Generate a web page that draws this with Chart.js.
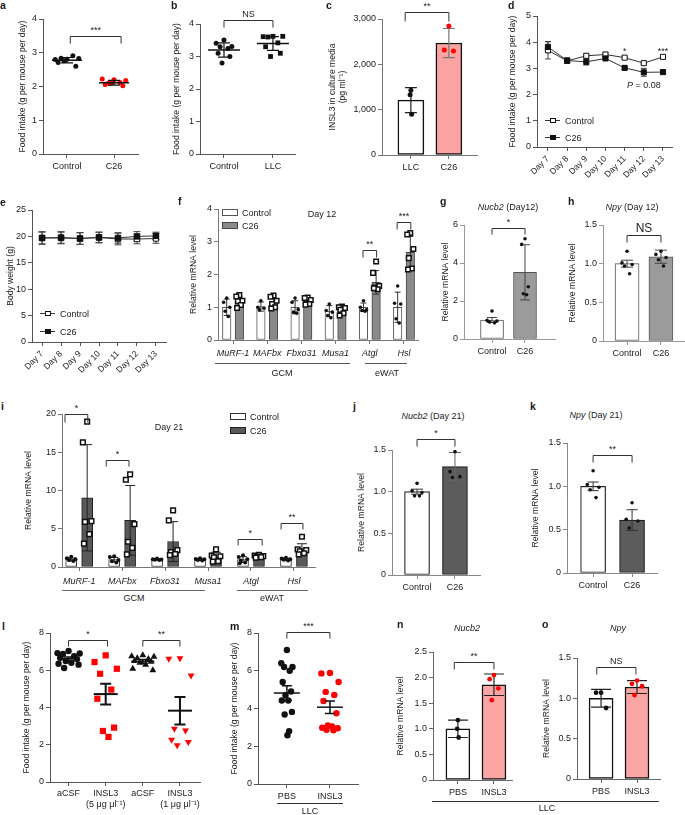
<!DOCTYPE html>
<html lang="en">
<head>
<meta charset="UTF-8">
<title>Food intake and INSL3 panels</title>
<style>
  body { margin: 0; background: #fff; }
  #fig { position: relative; width: 685px; height: 815px; overflow: hidden; font-family: "Liberation Sans", Arial, sans-serif; color: #1a1a1a; }
  #fig canvas { position: absolute; }
  .t { position: absolute; font-size: 9px; white-space: nowrap; transform: translate(-50%, -50%); line-height: 1; }
  .tl { position: absolute; font-size: 9px; white-space: nowrap; transform: translateY(-50%); line-height: 1; }
  .lt { position: absolute; font-size: 10.5px; font-weight: bold; transform: translateY(-50%); line-height: 1; }
  .hl { position: absolute; height: 0; border-top: 1px solid #444; }
  .bx { position: absolute; box-sizing: border-box; border: 1px solid #444; }
</style>
</head>
<body>
<div id="fig"></div>
<script src="https://cdn.jsdelivr.net/npm/chart.js"></script>
<script>
// ---------- data ----------
// a: food intake, C26 model
const aCats = ['Control', 'C26'];
const aMean = [2.78, 2.11];
const aSD = [0.08, 0.07];
const aCtrl = [2.81, 2.8, 2.83, 2.84, 2.91, 2.71, 2.6, 2.76];
const aC26 = [2.2, 2.22, 2.18, 2.1, 2.12, 2.06, 2.02, 2.1];

// b: food intake, LLC model
const bCats = ['Control', 'LLC'];
const bMean = [3.2, 3.4];
const bSD = [0.22, 0.21];
const bCtrl = [3.51, 3.41, 3.31, 3.3, 3.25, 3.1, 3.0, 2.8];
const bLLC = [3.62, 3.61, 3.62, 3.6, 3.42, 3.3, 3.1, 3.0];

// c: INSL3 in culture media
const cCats = ['LLC', 'C26'];
const cMean = [1210, 2470];
const cSD = [275, 320];
const cLLC = [1430, 1330, 900];
const cC26 = [2845, 2315, 2295];

// d, e: time course
const days = ['Day 7', 'Day 8', 'Day 9', 'Day 10', 'Day 11', 'Day 12', 'Day 13'];
const dCtrl = [3.69, 3.29, 3.48, 3.53, 3.41, 3.2, 3.44];
const dCtrlSE = [0.33, 0.07, 0.07, 0.08, 0.05, 0.04, 0.04];
const dC26 = [3.82, 3.3, 3.25, 3.38, 3.02, 2.85, 2.86];
const dC26SE = [0.2, 0.1, 0.12, 0.05, 0.07, 0.15, 0.07];
const eCtrl = [19.7, 19.8, 19.6, 19.8, 19.5, 19.5, 19.6];
const eCtrlSD = [1.2, 1.1, 1.1, 1.0, 1.1, 0.9, 0.9];
const eC26 = [19.7, 19.7, 19.6, 19.8, 19.7, 20.0, 20.1];
const eC26SD = [1.1, 1.1, 1.1, 1.0, 1.0, 0.9, 0.7];

// f, i: atrophy / lipolysis genes
const genes = ['MuRF-1', 'MAFbx', 'Fbxo31', 'Musa1', 'Atgl', 'Hsl'];
const fCtrlMean = [1.0, 1.02, 1.0, 0.88, 1.0, 1.0];
const fCtrlSD = [0.25, 0.14, 0.2, 0.17, 0.13, 0.46];
const fC26Mean = [1.19, 1.15, 1.18, 0.96, 1.76, 2.68];
const fC26SD = [0.14, 0.15, 0.09, 0.1, 0.36, 0.48];
const fCtrlPts = [[1.28, 1.15, 1.0, 0.88, 0.72], [1.2, 1.0, 0.97, 0.92], [1.28, 1.15, 0.93, 0.85, 0.82],
  [1.1, 0.9, 0.85, 0.75, 0.68], [1.2, 1.0, 0.92, 0.9, 0.88], [1.65, 1.12, 1.1, 0.65, 0.52]];
const fC26Pts = [[1.37, 1.33, 1.2, 1.18, 1.07, 0.98], [1.36, 1.32, 1.2, 1.1, 1.0, 0.96], [1.3, 1.28, 1.22, 1.12, 1.1, 1.08],
  [1.02, 1.0, 0.98, 0.92, 0.82, 0.75], [2.4, 2.05, 1.65, 1.6, 1.55, 1.58], [3.27, 3.22, 2.78, 2.5, 2.18, 2.15]];

const iCtrlMean = [0.98, 0.97, 0.99, 0.98, 0.97, 1.0];
const iCtrlSD = [0.2, 0.28, 0.1, 0.12, 0.38, 0.15];
const iC26Mean = [9.05, 6.1, 3.33, 1.31, 1.33, 2.32];
const iC26SD = [6.95, 4.55, 2.6, 0.62, 0.2, 0.72];
const iCtrlPts = [[1.35, 1.15, 1.0, 0.9, 0.8], [1.4, 1.3, 0.9, 0.75, 0.6], [1.1, 1.0, 0.98, 0.95, 0.9],
  [1.15, 1.05, 1.0, 0.9, 0.85], [1.55, 1.3, 1.0, 0.85, 0.6, 0.5], [1.2, 1.1, 1.0, 0.95, 0.85]];
const iC26Pts = [[19.0, 16.3, 6.0, 5.9, 4.3, 3.05], [12.1, 11.4, 5.6, 3.3, 2.5, 1.65], [7.4, 6.1, 2.2, 1.95, 1.7, 1.55],
  [2.3, 1.5, 1.4, 1.25, 0.75, 0.7], [1.6, 1.5, 1.42, 1.35, 1.3, 1.22], [3.95, 2.3, 2.2, 2.05, 1.8, 1.65]];

// g, h, j, k: hypothalamic mRNA
const ctlCats = ['Control', 'C26'];
const gMean = [1.0, 3.51];
const gSD = [0.13, 1.45];
const gCtrl = [1.47, 0.98, 0.95, 0.9, 0.85];
const gC26 = [5.28, 4.98, 2.75, 2.38, 2.33];
const hMean = [1.0, 1.09];
const hSD = [0.045, 0.085];
const hCtrl = [1.16, 1.01, 0.99, 0.97, 0.87];
const hC26 = [1.16, 1.12, 1.08, 1.05, 0.97];
const jMean = [1.0, 1.3];
const jSD = [0.03, 0.17];
const jCtrl = [1.1, 1.01, 0.99, 0.95, 0.95];
const jC26 = [1.48, 1.24, 1.18, 1.17];
const kMean = [1.0, 0.61];
const kSD = [0.05, 0.12];
const kCtrl = [1.18, 1.02, 0.99, 0.96, 0.87];
const kC26 = [0.81, 0.62, 0.6, 0.52];

// l: icv INSL3
const lCats = ['aCSF', ['INSL3', '(5 μg μl⁻¹)'], 'aCSF', ['INSL3', '(1 μg μl⁻¹)']];
const lMean = [6.62, 4.72, 6.48, 3.83];
const lSEM = [0.09, 0.56, 0.1, 0.74];
const lPts = [[7.03, 6.92, 6.9, 6.88, 6.75, 6.67, 6.6, 6.5, 6.4, 6.35, 6.3, 6.12],
  [6.8, 6.44, 6.08, 5.81, 4.96, 4.47, 2.92, 2.74, 2.42],
  [6.8, 6.75, 6.72, 6.65, 6.6, 6.5, 6.45, 6.4, 6.3, 6.08, 6.0],
  [6.65, 6.62, 5.72, 2.86, 2.77, 2.27, 2.15, 1.97]];

// m, n, o: LLC + INSL3
const pbsCats = ['PBS', 'INSL3'];
const mMean = [4.82, 4.07];
const mSEM = [0.38, 0.33];
const mPBS = [7.1, 6.4, 6.2, 6.2, 6.0, 5.4, 4.9, 4.7, 4.42, 4.42, 3.82, 3.68, 2.8, 2.58];
const mINSL3 = [5.88, 5.86, 5.4, 4.88, 4.72, 4.4, 3.75, 3.1, 3.05, 2.98, 2.95, 2.87, 2.85];
const nMean = [1.0, 1.86];
const nSD = [0.17, 0.21];
const nPBS = [1.17, 1.0, 0.83];
const nINSL3 = [2.05, 1.97, 1.79, 1.56];
const oMean = [1.0, 1.14];
const oSD = [0.11, 0.08];
const oPBS = [1.07, 1.07, 0.88];
const oINSL3 = [1.22, 1.18, 1.15, 1.04];

// ---------- helpers ----------
const TF = '"Liberation Sans", Arial, sans-serif';
Chart.defaults.font.family = TF;
const fig = document.getElementById('fig');
const PAT = [0, -1, 1, -0.5, 0.5, -0.75, 0.75, -0.25, 0.25, -0.9, 0.9, -0.4, 0.4, 0.1];
const RED = '#ff0000';

const int = v => String(v);
const dec1 = v => v === 0 ? '0' : v.toFixed(1);
const comma = v => v >= 1000 ? Math.floor(v / 1000) + ',' + String(v % 1000).padStart(3, '0') : String(v);

function dots(vals, xi, w, st) {
  return {
    type: 'scatter', order: st.order || 1,
    data: vals.map((v, k) => ({ x: xi + PAT[k % PAT.length] * w, y: v })),
    pointStyle: st.s || 'circle', pointRadius: st.r || 2, pointHoverRadius: st.r || 2,
    pointRotation: st.rot || 0, backgroundColor: st.bg || st.c, borderColor: st.c, borderWidth: st.bw || 0
  };
}
function groupDots(groups, shift, w, st) {
  const d = dots([], 0, 0, st);
  d.data = groups.flatMap((g, i) => g.map((v, k) => ({ x: i + shift + PAT[k % PAT.length] * w, y: v })));
  return d;
}
function bars(xs, vals, st) {
  return {
    type: 'bar', order: st.order || 4, eb: !!st.eb, grouped: false, borderSkipped: false,
    data: xs.map((x, k) => ({ x: x, y: vals[k] })),
    backgroundColor: st.bg, borderColor: st.bc, borderWidth: st.bw || 1, barThickness: st.t
  };
}

function eb(ctx, xs, ys, x, m, e, half, col, lw) {
  const px = xs.getPixelForValue(x), p1 = ys.getPixelForValue(m - e), p2 = ys.getPixelForValue(m + e);
  ctx.save();
  ctx.strokeStyle = col; ctx.lineWidth = lw;
  ctx.beginPath();
  ctx.moveTo(px, p1); ctx.lineTo(px, p2);
  ctx.moveTo(px - half, p1); ctx.lineTo(px + half, p1);
  ctx.moveTo(px - half, p2); ctx.lineTo(px + half, p2);
  ctx.stroke();
  ctx.restore();
}
function mline(ctx, xs, ys, x, m, half, col, lw) {
  const px = xs.getPixelForValue(x), py = ys.getPixelForValue(m);
  ctx.save();
  ctx.strokeStyle = col; ctx.lineWidth = lw;
  ctx.beginPath(); ctx.moveTo(px - half, py); ctx.lineTo(px + half, py); ctx.stroke();
  ctx.restore();
}
function brk(ctx, xs, ys, x1, x2, v, label, drop, fs) {
  const a = xs.getPixelForValue(x1), b = xs.getPixelForValue(x2), y = Math.round(ys.getPixelForValue(v)) + 0.5;
  ctx.save();
  ctx.strokeStyle = '#333'; ctx.lineWidth = 1;
  ctx.beginPath();
  ctx.moveTo(a, y + drop); ctx.lineTo(a, y); ctx.lineTo(b, y); ctx.lineTo(b, y + drop);
  ctx.stroke();
  ctx.fillStyle = '#1a1a1a';
  ctx.font = (fs || 9) + 'px ' + TF;
  ctx.textAlign = 'center'; ctx.textBaseline = 'bottom';
  ctx.fillText(label, (a + b) / 2, y - 1);
  ctx.restore();
}
function note(ctx, xs, ys, x, v, str) {
  ctx.save();
  ctx.fillStyle = '#1a1a1a'; ctx.font = '9px ' + TF;
  ctx.textAlign = 'center'; ctx.textBaseline = 'middle';
  ctx.fillText(str, xs.getPixelForValue(x), ys.getPixelForValue(v));
  ctx.restore();
}

function build(p) {
  const fs = 8.6;
  const x0 = Math.round(p.tx - 4 - fs * 0.6);
  const top = p.top !== undefined ? p.top : Math.min(22, p.T);
  const y0 = p.T - top;
  const xh = p.xh || 22;
  const rp = 8;
  const w = p.R - x0 + rp, h = p.B - y0 + xh;
  const cv = document.createElement('canvas');
  cv.width = w; cv.height = h;
  cv.style.left = x0 + 'px'; cv.style.top = y0 + 'px';
  cv.style.width = w + 'px'; cv.style.height = h + 'px';
  fig.appendChild(cv);
  const ax = p.axis || '#777';
  new Chart(cv, {
    type: 'scatter',
    data: { datasets: p.datasets },
    options: {
      responsive: false, animation: false, devicePixelRatio: 1,
      layout: { padding: { left: 0, top: top, right: rp, bottom: 0 } },
      plugins: { legend: { display: false }, tooltip: { enabled: false } },
      scales: {
        x: {
          type: 'linear', min: p.xmin, max: p.xmax, offset: false,
          afterBuildTicks: s => { s.ticks = p.cats.map((c, i) => ({ value: i })); },
          afterFit: s => { s.height = xh; },
          ticks: {
            autoSkip: false, maxRotation: p.rot || 0, minRotation: p.rot || 0,
            padding: p.xpad !== undefined ? p.xpad : 3, color: '#1a1a1a',
            font: { size: p.xfs || 9, style: p.italic ? 'italic' : 'normal' },
            callback: v => p.cats[v]
          },
          grid: { drawOnChartArea: false, offset: false, tickLength: 4, color: ax },
          border: { color: ax, width: 1 }
        },
        y: {
          type: 'linear', min: 0, max: p.ymax,
          afterFit: s => { s.width = p.L - x0; },
          ticks: { stepSize: p.step, padding: 2, color: '#1a1a1a', font: { size: 9 }, callback: p.fmt || int },
          grid: { drawOnChartArea: false, tickLength: 4, color: ax },
          border: { color: ax, width: 1 },
          title: { display: true, text: p.ytitle || 'Relative mRNA level', color: '#1a1a1a', font: { size: fs }, padding: { top: 4, bottom: 4 } }
        }
      }
    },
    plugins: [{
      id: 'deco',
      beforeDatasetsDraw(c) { if (p.under) p.under(c.ctx, c.scales.x, c.scales.y); },
      afterDatasetDraw(c, args) { if (p.mid && c.data.datasets[args.index].eb) p.mid(c.ctx, c.scales.x, c.scales.y); },
      afterDatasetsDraw(c) { if (p.over) p.over(c.ctx, c.scales.x, c.scales.y); }
    }]
  });
}

function txt(x, y, html, cls, style) {
  const d = document.createElement('div');
  d.className = cls || 't';
  d.style.left = x + 'px'; d.style.top = y + 'px';
  if (style) Object.assign(d.style, style);
  d.innerHTML = html;
  fig.appendChild(d);
}
function hline(x1, x2, y, col, lw) {
  const d = document.createElement('div');
  d.className = 'hl';
  d.style.left = x1 + 'px'; d.style.top = y + 'px'; d.style.width = (x2 - x1) + 'px';
  d.style.borderTopColor = col || '#444'; d.style.borderTopWidth = (lw || 1) + 'px';
  fig.appendChild(d);
}
function box(x, y, w, h, bg, bc) {
  const d = document.createElement('div');
  d.className = 'bx';
  d.style.left = x + 'px'; d.style.top = y + 'px'; d.style.width = w + 'px'; d.style.height = h + 'px';
  d.style.background = bg; d.style.borderColor = bc || '#444';
  fig.appendChild(d);
}

// ---------- panels ----------
// a
build({
  L: 43, R: 138, T: 19, B: 154, tx: 22, xmin: -0.51, xmax: 1.51, cats: aCats, ymax: 4, step: 1,
  ytitle: 'Food intake (g per mouse per day)', axis: '#555',
  datasets: [dots(aCtrl, 0, 0.25, { r: 2.5, c: '#111' }), dots(aC26, 1, 0.25, { r: 2.5, c: RED })],
  over: (c, x, y) => {
    aMean.forEach((m, i) => { mline(c, x, y, i, m, 15, '#111', 1.5); eb(c, x, y, i, m, aSD[i], 6, '#111', 1.2); });
    brk(c, x, y, 0.07, 1.15, 3.5, '***', 7);
  }
});

// b
build({
  L: 200, R: 295, T: 24, B: 154, tx: 176, xmin: -0.49, xmax: 1.45, cats: bCats, ymax: 4, step: 1,
  ytitle: 'Food intake (g per mouse per day)', axis: '#555',
  datasets: [dots(bCtrl, 0, 0.16, { r: 2.5, c: '#111' }), dots(bLLC, 1, 0.2, { s: 'rect', r: 3.4, c: '#111' })],
  over: (c, x, y) => {
    bMean.forEach((m, i) => { mline(c, x, y, i, m, 16, '#111', 1.5); eb(c, x, y, i, m, bSD[i], 6, '#111', 1.2); });
    brk(c, x, y, 0, 1, 4.12, 'NS', 7);
  }
});

// c
build({
  L: 382, R: 477, T: 19, B: 155, tx: 332, xmin: -0.76, xmax: 1.74, cats: cCats, ymax: 3000, step: 1000, fmt: comma,
  ytitle: ['INSL3 in culture media', '(pg ml⁻¹)'],
  datasets: [dots(cLLC, 0, 0.02, { r: 2.5, c: '#111' }), dots(cC26, 1, 0.12, { r: 2.5, c: RED }),
    bars([0, 1], cMean, { bg: ['#ffffff', '#fba3a3'], bc: '#111', bw: 1.5, t: 26, eb: true })],
  mid: (c, x, y) => { eb(c, x, y, 0, cMean[0], cSD[0], 6, '#222', 1.2); eb(c, x, y, 1, cMean[1], cSD[1], 6, '#777', 1.2); },
  over: (c, x, y) => brk(c, x, y, -0.15, 1, 3155, '**', 9)
});

// d
build({
  L: 537, R: 672, T: 16, B: 147, tx: 512, xmin: -0.57, xmax: 6.47, cats: days, rot: 45, xh: 36, xfs: 8.5,
  ymax: 5, step: 1, ytitle: 'Food intake (g per mouse per day)', axis: '#555',
  datasets: [
    { type: 'scatter', showLine: true, order: 2, data: dCtrl.map((v, i) => ({ x: i, y: v })), borderColor: '#333', borderWidth: 1,
      pointStyle: 'rect', pointRadius: 3.6, pointBackgroundColor: '#fff', pointBorderColor: '#111', pointBorderWidth: 1 },
    { type: 'scatter', showLine: true, order: 1, data: dC26.map((v, i) => ({ x: i, y: v })), borderColor: '#333', borderWidth: 1,
      pointStyle: 'rect', pointRadius: 3.6, pointBackgroundColor: '#111', pointBorderColor: '#111', pointBorderWidth: 1 }
  ],
  under: (c, x, y) => days.forEach((d, i) => {
    eb(c, x, y, i, dCtrl[i], dCtrlSE[i], 3, '#444', 1);
    eb(c, x, y, i, dC26[i], dC26SE[i], 3, '#444', 1);
  }),
  over: (c, x, y) => {
    note(c, x, y, 4, 3.66, '*');
    note(c, x, y, 6, 3.66, '***');
    const px = x.getPixelForValue(5), py = y.getPixelForValue(2.33);
    c.save();
    c.fillStyle = '#1a1a1a'; c.textBaseline = 'middle';
    c.font = 'italic 9px ' + TF; const w1 = c.measureText('P').width;
    c.font = '9px ' + TF; const w2 = c.measureText(' = 0.08').width;
    const sx = px - (w1 + w2) / 2;
    c.font = 'italic 9px ' + TF; c.fillText('P', sx, py);
    c.font = '9px ' + TF; c.fillText(' = 0.08', sx + w1, py);
    c.restore();
  }
});

// e
build({
  L: 32, R: 166, T: 210, B: 342, tx: 10, xmin: -0.53, xmax: 6.53, cats: days, rot: 45, xh: 36, xfs: 8.5,
  ymax: 25, step: 5, ytitle: 'Body weight (g)', axis: '#555',
  datasets: [
    { type: 'scatter', showLine: true, order: 2, data: eCtrl.map((v, i) => ({ x: i, y: v })), borderColor: '#333', borderWidth: 1,
      pointStyle: 'rect', pointRadius: 3.8, pointBackgroundColor: '#fff', pointBorderColor: '#111', pointBorderWidth: 1 },
    { type: 'scatter', showLine: true, order: 1, data: eC26.map((v, i) => ({ x: i, y: v })), borderColor: '#333', borderWidth: 1,
      pointStyle: 'rect', pointRadius: 3.8, pointBackgroundColor: '#111', pointBorderColor: '#111', pointBorderWidth: 1 }
  ],
  under: (c, x, y) => days.forEach((d, i) => {
    eb(c, x, y, i, eCtrl[i], eCtrlSD[i], 3.5, '#444', 1);
    eb(c, x, y, i, eC26[i], eC26SD[i], 3.5, '#444', 1);
  })
});

// f
const fOff = 0.185;
build({
  L: 218, R: 418, T: 209, B: 340, tx: 193, xmin: -0.44, xmax: 5.41, cats: genes, italic: true, xh: 20, xpad: 4,
  ymax: 4, step: 1,
  datasets: [
    groupDots(fCtrlPts, -fOff, 0.09, { r: 1.8, c: '#111' }),
    groupDots(fC26Pts, fOff, 0.09, { s: 'rect', r: 3.2, c: '#111', bg: '#fff', bw: 1.5 }),
    bars(genes.map((g, i) => i - fOff), fCtrlMean, { bg: '#ffffff', bc: '#555', bw: 1, t: 8.5, order: 5 }),
    bars(genes.map((g, i) => i + fOff), fC26Mean, { bg: '#8a8a8a', bc: '#444', bw: 1, t: 8.5, order: 4, eb: true })
  ],
  mid: (c, x, y) => genes.forEach((g, i) => {
    eb(c, x, y, i - fOff, fCtrlMean[i], fCtrlSD[i], 3, '#333', 1);
    eb(c, x, y, i + fOff, fC26Mean[i], fC26SD[i], 3, '#333', 1);
  }),
  over: (c, x, y) => {
    brk(c, x, y, 4 - 0.2, 4 + 0.2, 2.75, '**', 7);
    brk(c, x, y, 5 - 0.2, 5 + 0.2, 3.61, '***', 7);
  }
});

// g
build({
  L: 464, R: 555, T: 225, B: 339, tx: 445, xmin: -0.85, xmax: 1.91, cats: ctlCats, ymax: 6, step: 2, axis: '#999',
  datasets: [dots(gCtrl, 0, 0.15, { r: 1.8, c: '#111' }), dots(gC26, 1, 0.1, { r: 1.8, c: '#111' }),
    bars([0, 1], gMean, { bg: ['#ffffff', '#9b9b9b'], bc: '#555', bw: 1, t: 23, eb: true })],
  mid: (c, x, y) => gMean.forEach((m, i) => eb(c, x, y, i, m, gSD[i], 5, '#444', 1)),
  over: (c, x, y) => brk(c, x, y, 0, 1, 5.82, '*', 6)
});

// h
build({
  L: 603, R: 685, T: 225, B: 341, tx: 572, xmin: -0.71, xmax: 1.71, cats: ctlCats, ymax: 1.5, step: 0.5, fmt: dec1, axis: '#999',
  datasets: [dots(hCtrl, 0, 0.15, { r: 1.8, c: '#111' }), dots(hC26, 1, 0.15, { r: 1.8, c: '#111' }),
    bars([0, 1], hMean, { bg: ['#ffffff', '#9b9b9b'], bc: '#555', bw: 1, t: 24, eb: true })],
  mid: (c, x, y) => hMean.forEach((m, i) => eb(c, x, y, i, m, hSD[i], 6, '#444', 1)),
  over: (c, x, y) => brk(c, x, y, 0, 1, 1.37, 'NS', 7, 12)
});

// i
const iOff = 0.186;
build({
  L: 62, R: 315, T: 414, B: 567, tx: 28, xmin: -0.4, xmax: 5.49, cats: genes, italic: true, xh: 20, xpad: 5,
  ymax: 20, step: 5,
  datasets: [
    groupDots(iCtrlPts, -iOff, 0.1, { r: 2, c: '#111' }),
    groupDots(iC26Pts, iOff, 0.1, { s: 'rect', r: 3.3, c: '#111', bg: '#fff', bw: 1.5 }),
    bars(genes.map((g, i) => i - iOff), iCtrlMean, { bg: '#ffffff', bc: '#333', bw: 1, t: 11, order: 5 }),
    bars(genes.map((g, i) => i + iOff), iC26Mean, { bg: '#595959', bc: '#222', bw: 1, t: 11, order: 4, eb: true })
  ],
  mid: (c, x, y) => genes.forEach((g, i) => {
    eb(c, x, y, i - iOff, iCtrlMean[i], iCtrlSD[i], 4, '#222', 1);
    eb(c, x, y, i + iOff, iC26Mean[i], iC26SD[i], 5, '#222', 1);
  }),
  over: (c, x, y) => {
    brk(c, x, y, -0.33, 0.2, 19.95, '*', 8);
    brk(c, x, y, 0.63, 1.16, 14.0, '*', 6);
    brk(c, x, y, 3.7, 4.26, 3.7, '*', 6);
    brk(c, x, y, 4.7, 5.21, 5.7, '**', 6);
  }
});

// j
build({
  L: 392, R: 480, T: 450, B: 575, tx: 361, xmin: -0.66, xmax: 1.66, cats: ctlCats, ymax: 1.5, step: 0.5, fmt: dec1, axis: '#888',
  datasets: [dots(jCtrl, 0, 0.13, { r: 1.8, c: '#111' }), dots(jC26, 1, 0.13, { r: 1.8, c: '#111' }),
    bars([0, 1], jMean, { bg: ['#ffffff', '#5c5c5c'], bc: '#222', bw: 1.2, t: 25, eb: true })],
  mid: (c, x, y) => jMean.forEach((m, i) => eb(c, x, y, i, m, jSD[i], 6, i ? '#666' : '#333', 1)),
  over: (c, x, y) => brk(c, x, y, 0, 1, 1.63, '*', 7)
});

// k
build({
  L: 567, R: 657, T: 443, B: 573, tx: 535, xmin: -0.67, xmax: 1.64, cats: ctlCats, ymax: 1.5, step: 0.5, fmt: dec1, axis: '#888',
  datasets: [dots(kCtrl, 0, 0.15, { r: 1.8, c: '#111' }), dots(kC26, 1, 0.15, { r: 1.8, c: '#111' }),
    bars([0, 1], kMean, { bg: ['#ffffff', '#5c5c5c'], bc: '#222', bw: 1.2, t: 25, eb: true })],
  mid: (c, x, y) => kMean.forEach((m, i) => eb(c, x, y, i, m, kSD[i], 5.5, '#333', 1)),
  over: (c, x, y) => brk(c, x, y, 0, 1, 1.36, '**', 7)
});

// l
const lStyles = [{ r: 3.2, c: '#111' }, { s: 'rect', r: 4.4, c: RED }, { s: 'triangle', r: 4, c: '#111' }, { s: 'triangle', r: 4, c: RED, rot: 180 }];
build({
  L: 50, R: 200, T: 633, B: 782, tx: 26, xmin: -0.5, xmax: 3.54, cats: lCats, xh: 34, xpad: 2,
  ymax: 8, step: 2, ytitle: 'Food intake (g per mouse per day)', axis: '#555', top: 16,
  datasets: lPts.map((g, i) => dots(g, i, 0.3, lStyles[i])),
  over: (c, x, y) => {
    lMean.forEach((m, i) => {
      const thick = i % 2 === 1;
      mline(c, x, y, i, m, thick ? 12 : 11.5, '#111', thick ? 2 : 1.5);
      eb(c, x, y, i, m, lSEM[i], thick ? 5.5 : 5, '#111', thick ? 2 : 1.5);
    });
    brk(c, x, y, 0, 1.05, 7.64, '*', 6);
    brk(c, x, y, 2, 3, 7.64, '**', 6);
  }
});

// m
build({
  L: 258, R: 358, T: 633, B: 784, tx: 234, xmin: -0.67, xmax: 1.65, cats: pbsCats, ymax: 8, step: 2,
  ytitle: 'Food intake (g per mouse per day)', axis: '#555', top: 16,
  datasets: [dots(mPBS, 0, 0.13, { r: 3.2, c: '#111' }), dots(mINSL3, 1, 0.2, { r: 3.2, c: RED })],
  over: (c, x, y) => {
    mMean.forEach((m, i) => { mline(c, x, y, i, m, 13, '#111', 1.5); eb(c, x, y, i, m, mSEM[i], 5, '#111', 1.5); });
    brk(c, x, y, 0, 1, 8.05, '***', 6);
  }
});

// n
build({
  L: 433, R: 512, T: 652, B: 780, tx: 400, xmin: -0.69, xmax: 1.5, cats: pbsCats, ymax: 2.5, step: 0.5, fmt: dec1, axis: '#666',
  datasets: [dots(nPBS, 0, 0.02, { r: 2.4, c: '#111' }), dots(nINSL3, 1, 0.12, { r: 2.4, c: RED }),
    bars([0, 1], nMean, { bg: ['#ffffff', '#fba5a5'], bc: '#111', bw: 1.5, t: 24, eb: true })],
  mid: (c, x, y) => nMean.forEach((m, i) => eb(c, x, y, i, m, nSD[i], 10, '#222', 1.2)),
  over: (c, x, y) => brk(c, x, y, -0.1, 1, 2.31, '**', 7)
});

// o
build({
  L: 577, R: 660, T: 658, B: 779, tx: 546, xmin: -0.67, xmax: 1.64, cats: pbsCats, ymax: 1.5, step: 0.5, fmt: dec1, axis: '#666',
  datasets: [dots(oPBS, 0, 0.14, { r: 2.4, c: '#111' }), dots(oINSL3, 1, 0.14, { r: 2.4, c: RED }),
    bars([0, 1], oMean, { bg: ['#ffffff', '#fba5a5'], bc: '#111', bw: 1.5, t: 24, eb: true })],
  mid: (c, x, y) => oMean.forEach((m, i) => eb(c, x, y, i, m, oSD[i], 10, '#222', 1.2)),
  over: (c, x, y) => brk(c, x, y, -0.12, 0.97, 1.39, 'NS', 7)
});

// ---------- text, legends, group lines ----------
[['a', 0, 5], ['b', 171, 5], ['c', 326, 5], ['d', 508, 5], ['e', 0, 202], ['f', 178, 201], ['g', 440, 201],
 ['h', 568, 201], ['i', 1, 406], ['j', 353, 406], ['k', 530, 406], ['l', 2, 626], ['m', 230, 626],
 ['n', 397, 624], ['o', 542, 624]].forEach(l => txt(l[1], l[2], l[0], 'lt'));

txt(508, 207, '<i>Nucb2</i> (Day12)');
txt(632, 207, '<i>Npy</i> (Day 12)');
txt(433, 416, '<i>Nucb2</i> (Day 21)');
txt(596, 415, '<i>Npy</i> (Day 21)');
txt(467, 628, '<i>Nucb2</i>');
txt(618, 628, '<i>Npy</i>');
txt(322, 214, 'Day 12');
txt(169, 427, 'Day 21');

// d / e legends
[[545, 120, '#fff', 'Control'], [545, 137, '#111', 'C26'], [40, 313, '#fff', 'Control'], [40, 331, '#111', 'C26']].forEach(r => {
  hline(r[0], r[0] + 15, r[1], '#333', 1);
  box(r[0] + 5, r[1] - 2.5, 5.5, 5.5, r[2], '#111');
  txt(r[0] + 20, r[1] + 0.5, r[3], 'tl');
});
// f / i legends
box(222, 209, 16, 7, '#fff', '#555'); txt(242, 212.5, 'Control', 'tl');
box(222, 222, 16, 7, '#8a8a8a', '#444'); txt(242, 225.5, 'C26', 'tl');
box(230, 413, 16, 7, '#fff', '#333'); txt(250, 416.5, 'Control', 'tl');
box(230, 427, 16, 7, '#595959', '#222'); txt(250, 430.5, 'C26', 'tl');

// group underlines
hline(215, 350, 363, '#555', 1); txt(282, 373, 'GCM');
hline(365, 407, 363, '#555', 1); txt(387, 373, 'eWAT');
hline(62, 205, 590, '#666', 1.5); txt(134, 598, 'GCM');
hline(237, 308, 590, '#666', 1.5); txt(272, 598, 'eWAT');
hline(277, 343, 803, '#333', 1); txt(310, 811, 'LLC');
hline(432, 659, 801, '#333', 1); txt(547, 808, 'LLC');
</script>
</body>
</html>
